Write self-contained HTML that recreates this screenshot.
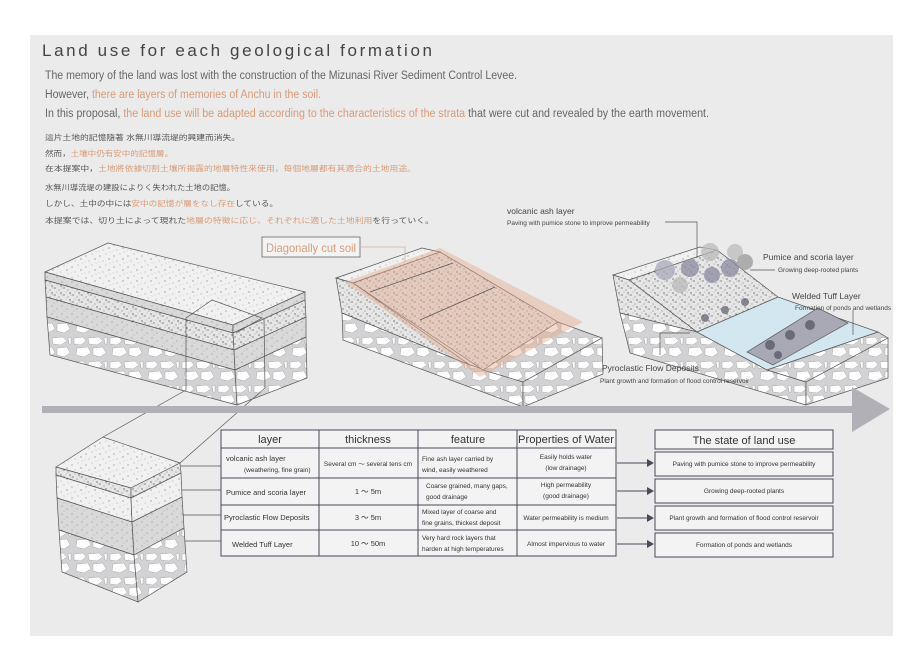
<!DOCTYPE html>
<html><head><meta charset="utf-8"><style>
html,body{margin:0;padding:0;background:#fff;}
svg{display:block}
text{font-family:"Liberation Sans","Noto Sans CJK JP",sans-serif;}
</style></head><body>
<svg width="922" height="661" viewBox="0 0 922 661" xmlns="http://www.w3.org/2000/svg">
<defs>
<pattern id="dots" width="14" height="11" patternUnits="userSpaceOnUse">
<rect width="14" height="11" fill="#f1f1f1"/>
<circle cx="2" cy="3" r=".6" fill="#888"/><circle cx="8" cy="1" r=".5" fill="#999"/><circle cx="11" cy="6" r=".6" fill="#777"/><circle cx="5" cy="8" r=".5" fill="#999"/><circle cx="12" cy="10" r=".4" fill="#888"/><circle cx="1" cy="9" r=".4" fill="#aaa"/>
</pattern>
<pattern id="dense" width="9" height="7" patternUnits="userSpaceOnUse">
<rect width="9" height="7" fill="#e6e6e6"/>
<circle cx="1" cy="1" r=".6" fill="#444"/><circle cx="5" cy="3" r=".5" fill="#555"/><circle cx="7" cy="6" r=".6" fill="#333"/><circle cx="3" cy="5" r=".4" fill="#666"/><circle cx="8" cy="1" r=".4" fill="#666"/>
</pattern>
<pattern id="grey" width="10" height="8" patternUnits="userSpaceOnUse">
<rect width="10" height="8" fill="#d9d9d9"/>
<circle cx="2" cy="2" r=".5" fill="#666"/><circle cx="7" cy="5" r=".5" fill="#777"/><circle cx="4" cy="7" r=".4" fill="#888"/>
</pattern>
<pattern id="rock" width="36" height="24" patternUnits="userSpaceOnUse">
<rect width="36" height="24" fill="#d2d2d4"/>
<polygon points="2,2 11,1 14,5 9,9 2,8" fill="#fff" stroke="#999" stroke-width=".4"/>
<polygon points="16,2 27,1 31,5 25,9 17,8" fill="#fff" stroke="#999" stroke-width=".4"/>
<polygon points="5,12 16,11 19,17 12,21 4,19" fill="#fff" stroke="#999" stroke-width=".4"/>
<polygon points="21,12 31,11 34,17 28,21 21,19" fill="#fff" stroke="#999" stroke-width=".4"/>
<polygon points="32,2 35,1 35,8 33,8" fill="#fff" stroke="#999" stroke-width=".4"/>
</pattern>
</defs>
<rect x="30" y="35" width="863" height="601" fill="#ebebeb"/>

<text x="42" y="56" font-size="17" fill="#444" textLength="390" lengthAdjust="spacing">Land use for each geological formation</text>
<g font-size="11.5" fill="#666">
<text x="45" y="79" textLength="472" lengthAdjust="spacingAndGlyphs">The memory of the land was lost with the construction of the Mizunasi River Sediment Control Levee.</text>
<text x="45" y="98" textLength="276" lengthAdjust="spacingAndGlyphs">However, <tspan fill="#d99b78">there are layers of memories of Anchu in the soil.</tspan></text>
<text x="45" y="117" textLength="664" lengthAdjust="spacingAndGlyphs">In this proposal, <tspan fill="#d99b78">the land use will be adapted according to the characteristics of the strata</tspan> that were cut and revealed by the earth movement.</text>
</g>
<g font-size="7.5" fill="#555">
<text x="45" y="140" textLength="195" lengthAdjust="spacingAndGlyphs">這片土地的記憶隨著 水無川導流堤的興建而消失。</text>
<text x="45" y="156" textLength="128" lengthAdjust="spacingAndGlyphs">然而，<tspan fill="#d99b78">土壤中仍有安中的記憶層。</tspan></text>
<text x="45" y="171" textLength="371" lengthAdjust="spacingAndGlyphs">在本提案中，<tspan fill="#d99b78">土地將依據切割土壤所揭露的地層特性來使用，每個地層都有其適合的土地用途。</tspan></text>
<text x="45" y="190" textLength="190" lengthAdjust="spacingAndGlyphs">水無川導流堤の建設によりく失われた土地の記憶。</text>
<text x="45" y="206" textLength="233" lengthAdjust="spacingAndGlyphs">しかし、土中の中には<tspan fill="#d99b78">安中の記憶が層をなし存在</tspan>している。</text>
<text x="45" y="223" textLength="389" lengthAdjust="spacingAndGlyphs">本提案では、切り土によって現れた<tspan fill="#d99b78">地層の特徴に応じ、それぞれに適した土地利用</tspan>を行っていく。</text>
</g>

<!-- Block 1 -->
<g stroke="#555" stroke-width=".7">
<polygon points="45,272 108,243 305,292 233,325" fill="url(#dots)"/>
<polygon points="45,272 233,325 233,333 45,280" fill="url(#grey)"/>
<polygon points="45,280 233,333 234,350 46,297" fill="url(#dense)"/>
<polygon points="46,297 234,350 235,370 47,317" fill="url(#grey)"/>
<polygon points="47,317 235,370 237,405 50,355" fill="url(#rock)"/>
<polygon points="233,325 305,292 305,300 233,333" fill="url(#grey)"/>
<polygon points="233,333 305,300 306,317 234,350" fill="url(#dense)"/>
<polygon points="234,350 306,317 306,337 235,370" fill="url(#grey)"/>
<polygon points="235,370 306,337 307,378 237,405" fill="url(#rock)"/>
<polyline points="186,318 212,300 262,318 236,333" fill="none"/>
<line x1="186" y1="318" x2="186" y2="390"/><line x1="264" y1="318" x2="265" y2="388"/>
<line x1="186" y1="390" x2="103" y2="437"/><line x1="265" y1="388" x2="180" y2="463"/>
</g>

<!-- Block 2 -->
<g stroke="#555" stroke-width=".7">
<polygon points="336,278 422,248 440,252 353,283" fill="url(#dots)"/>
<polygon points="336,278 353,283 470,365 342,313" fill="url(#dense)"/>
<polygon points="342,313 470,365 523,382 523,407 343,340" fill="url(#rock)"/>
<polygon points="353,283 440,252 558,322 483,370" fill="url(#dense)"/>
<polygon points="483,370 558,322 602,338 523,382" fill="url(#rock)"/>
<polygon points="523,382 602,338 603,374 523,407" fill="url(#rock)"/>
<polygon points="440,248 583,322 480,377 345,282" fill="rgba(228,170,140,0.45)" stroke="none"/>
<line x1="370" y1="292" x2="453" y2="263"/><line x1="420" y1="320" x2="495" y2="287"/>
</g>
<rect x="262" y="237" width="98" height="20" fill="#f3f3f3" stroke="#666" stroke-width=".8"/>
<text x="266" y="252" font-size="12" fill="#d99b78" textLength="90" lengthAdjust="spacingAndGlyphs">Diagonally cut soil</text>
<polyline points="360,247 405,247 405,262" fill="none" stroke="#d9b0a0" stroke-width=".8"/>

<!-- Block 3 -->
<g stroke="#555" stroke-width=".7">
<polygon points="613,275 700,247 717,250 629,280" fill="url(#dots)"/>
<polygon points="629,280 717,250 778,297 697,332" fill="url(#dense)"/>
<polygon points="613,275 629,280 697,332 620,313" fill="url(#dense)"/>
<polygon points="620,313 697,332 767,370 806,382 806,405 630,353" fill="url(#rock)"/>
<polygon points="697,332 778,297 878,332 767,370" fill="#d3e7f0"/>
<polygon points="747,352 818,308 848,323 773,365" fill="#a9a9b5"/>
<polygon points="767,370 878,332 888,338 806,382" fill="url(#rock)"/>
<polygon points="806,382 888,338 888,378 806,405" fill="url(#rock)"/>
</g>
<g fill="#8a8aa0" opacity=".75">
<circle cx="665" cy="270" r="10" fill="#aab"/><circle cx="690" cy="268" r="9"/><circle cx="712" cy="275" r="8"/><circle cx="730" cy="268" r="9"/>
<circle cx="710" cy="252" r="9" fill="#bbb"/><circle cx="735" cy="252" r="8" fill="#bbb"/><circle cx="745" cy="262" r="8" fill="#999"/><circle cx="680" cy="285" r="8" fill="#bbb"/>
<circle cx="705" cy="318" r="4" fill="#667"/><circle cx="725" cy="310" r="4" fill="#667"/><circle cx="745" cy="302" r="4" fill="#667"/>
<circle cx="770" cy="345" r="5" fill="#556"/><circle cx="790" cy="335" r="5" fill="#556"/><circle cx="810" cy="325" r="5" fill="#556"/><circle cx="778" cy="355" r="4" fill="#556"/>
</g>
<g stroke="#555" stroke-width=".7" fill="none">
<polyline points="665,222 697,222 697,258"/>
<line x1="750" y1="270" x2="775" y2="270"/>
<line x1="853" y1="310" x2="853" y2="335"/>
<polyline points="690,333 660,333 660,355"/>
</g>
<g fill="#444">
<text x="507" y="214" font-size="8.5">volcanic ash layer</text>
<text x="507" y="225" font-size="6.5">Paving with pumice stone to improve permeability</text>
<text x="763" y="260" font-size="8.5">Pumice and scoria layer</text>
<text x="778" y="272" font-size="6.5">Growing deep-rooted plants</text>
<text x="792" y="299" font-size="8.5">Welded Tuff Layer</text>
<text x="795" y="310" font-size="6.5">Formation of ponds and wetlands</text>
<text x="602" y="371" font-size="8.5">Pyroclastic Flow Deposits</text>
<text x="600" y="383" font-size="6.5">Plant growth and formation of flood control reservoir</text>
</g>

<!-- Arrow -->
<rect x="42" y="406" width="820" height="7" fill="#b0b0b6"/>
<polygon points="852,387 890,409 852,432" fill="#b0b0b6"/>

<!-- small block -->
<g stroke="#555" stroke-width=".7">
<polygon points="56,467 103,437 180,463 131,488" fill="url(#dots)"/>
<polygon points="56,467 131,488 131,498 56,475" fill="url(#dense)"/>
<polygon points="56,475 131,498 132,522 57,498" fill="url(#dots)"/>
<polygon points="57,498 132,522 134,555 59,530" fill="url(#grey)"/>
<polygon points="59,530 134,555 138,602 62,572" fill="url(#rock)"/>
<polygon points="131,488 180,463 181,473 131,498" fill="url(#dense)"/>
<polygon points="131,498 181,473 182,497 132,522" fill="url(#dots)"/>
<polygon points="132,522 182,497 184,528 134,555" fill="url(#grey)"/>
<polygon points="134,555 184,528 187,572 138,602" fill="url(#rock)"/>
</g>
<g stroke="#555" stroke-width=".8">
<line x1="181" y1="466" x2="222" y2="466"/><line x1="182" y1="490" x2="222" y2="490"/>
<line x1="183" y1="515" x2="222" y2="515"/><line x1="185" y1="541" x2="222" y2="541"/>
</g>

<!-- table -->
<g stroke="#4a4a5a" stroke-width="1" fill="none">
<rect x="221" y="430" width="395" height="126" fill="#f3f3f3"/>
<line x1="221" y1="448" x2="616" y2="448"/><line x1="221" y1="478" x2="616" y2="478"/>
<line x1="221" y1="505" x2="616" y2="505"/><line x1="221" y1="530" x2="616" y2="530"/>
<line x1="319" y1="430" x2="319" y2="556"/><line x1="418" y1="430" x2="418" y2="556"/><line x1="517" y1="430" x2="517" y2="556"/>
<rect x="655" y="430" width="178" height="19" fill="#f3f3f3"/>
<rect x="655" y="452" width="178" height="24" fill="#f3f3f3"/>
<rect x="655" y="479" width="178" height="24" fill="#f3f3f3"/>
<rect x="655" y="506" width="178" height="24" fill="#f3f3f3"/>
<rect x="655" y="533" width="178" height="24" fill="#f3f3f3"/>
<line x1="617" y1="463" x2="648" y2="463"/><line x1="617" y1="491" x2="648" y2="491"/>
<line x1="617" y1="518" x2="648" y2="518"/><line x1="617" y1="544" x2="648" y2="544"/>
</g>
<g fill="#4a4a5a">
<polygon points="647,459 654,463 647,467"/><polygon points="647,487 654,491 647,495"/>
<polygon points="647,514 654,518 647,522"/><polygon points="647,540 654,544 647,548"/>
</g>
<g fill="#333" font-size="11" text-anchor="middle">
<text x="270" y="443">layer</text><text x="368" y="443">thickness</text>
<text x="468" y="443">feature</text><text x="566" y="443" textLength="96" lengthAdjust="spacingAndGlyphs">Properties of Water</text>
<text x="744" y="444">The state of land use</text>
</g>
<g fill="#333" font-size="7.5">
<text x="226" y="461">volcanic ash layer</text><text x="244" y="472" font-size="6.5">(weathering, fine grain)</text>
<text x="226" y="495">Pumice and scoria layer</text>
<text x="224" y="520">Pyroclastic Flow Deposits</text>
<text x="232" y="547">Welded Tuff Layer</text>
<text x="368" y="466" text-anchor="middle" font-size="6.5">Several cm ～ several tens cm</text>
<text x="368" y="494" text-anchor="middle">1 ～ 5m</text>
<text x="368" y="520" text-anchor="middle">3 ～ 5m</text>
<text x="368" y="546" text-anchor="middle">10 ～ 50m</text>
<text x="422" y="461" font-size="6.5">Fine ash layer carried by</text><text x="422" y="472" font-size="6.5">wind, easily weathered</text>
<text x="426" y="488" font-size="6.5">Coarse grained, many gaps,</text><text x="426" y="499" font-size="6.5">good drainage</text>
<text x="422" y="514" font-size="6.5">Mixed layer of coarse and</text><text x="422" y="525" font-size="6.5">fine grains, thickest deposit</text>
<text x="422" y="540" font-size="6.5">Very hard rock layers that</text><text x="422" y="551" font-size="6.5">harden at high temperatures</text>
<text x="566" y="459" text-anchor="middle" font-size="6.5">Easily holds water</text><text x="566" y="470" text-anchor="middle" font-size="6.5">(low drainage)</text>
<text x="566" y="487" text-anchor="middle" font-size="6.5">High permeability</text><text x="566" y="498" text-anchor="middle" font-size="6.5">(good drainage)</text>
<text x="566" y="520" text-anchor="middle" font-size="6.5">Water permeability is medium</text>
<text x="566" y="546" text-anchor="middle" font-size="6.5">Almost impervious to water</text>
<g text-anchor="middle" font-size="6.5">
<text x="744" y="466">Paving with pumice stone to improve permeability</text>
<text x="744" y="493">Growing deep-rooted plants</text>
<text x="744" y="520">Plant growth and formation of flood control reservoir</text>
<text x="744" y="547">Formation of ponds and wetlands</text>
</g>
</g>
</svg>
</body></html>
